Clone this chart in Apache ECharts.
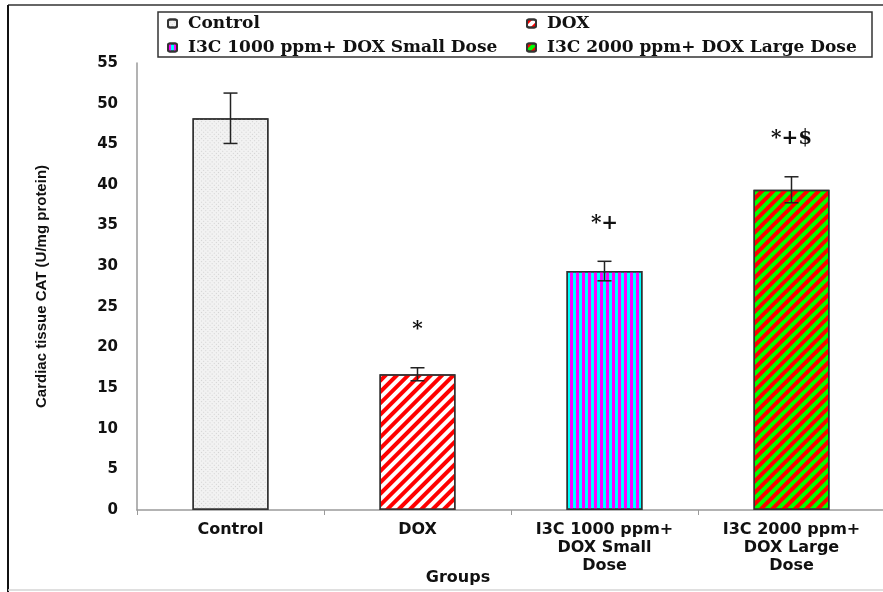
<!DOCTYPE html>
<html>
<head>
<meta charset="utf-8">
<script src="https://cdn.jsdelivr.net/npm/echarts@6/dist/echarts.min.js"></script>
<style>
  html, body { margin: 0; padding: 0; background: #fff; }
  #chart { width: 883px; height: 592px; }
</style>
</head>
<body>
<div id="chart"></div>
<script>
// Cardiac tissue CAT activity per treatment group (mean ± error)
const categories = ['Control', 'DOX', 'I3C 1000 ppm+\nDOX Small\nDose', 'I3C 2000 ppm+\nDOX Large\nDose'];
const groupNames = ['Control', 'DOX', 'I3C 1000 ppm+ DOX Small Dose', 'I3C 2000 ppm+ DOX Large Dose'];
const meanValues = [48.2, 16.7, 29.4, 39.4];
const errorValues = [3.1, 0.8, 1.2, 1.6];
const sigMarks = ['', '*', '*+', '*+$'];
const yMin = 0, yMax = 55, yStep = 5;

const SANS = "'DejaVu Sans', 'Liberation Sans', sans-serif";
const SERIF = "'DejaVu Serif', 'Liberation Serif', serif";

// fill + hatch for each group
const fills = [
  { color: '#f2f2f2', decal: { symbol: 'rect', color: '#d2d2d2', dashArrayX: [1, 2], dashArrayY: [1, 2], rotation: Math.PI / 4 } },
  { color: '#ffffff', decal: { symbol: 'rect', color: '#ff0000', dashArrayX: [1, 0], dashArrayY: [4, 4], rotation: -Math.PI / 4 } },
  { color: '#00ffff', decal: { symbol: 'rect', color: '#ff00ff', dashArrayX: [3, 3], dashArrayY: [1, 0], rotation: 0 } },
  { color: '#00ff00', decal: { symbol: 'rect', color: '#ff0000', dashArrayX: [1, 0], dashArrayY: [4, 4], rotation: -Math.PI / 4 } }
];

const barSeries = groupNames.map((name, gi) => ({
  name: name,
  type: 'bar',
  barWidth: 76,
  barGap: '-100%',
  data: meanValues.map((v, i) => (i === gi ? v : '-')),
  itemStyle: {
    color: fills[gi].color,
    decal: fills[gi].decal,
    borderColor: '#333',
    borderWidth: 1.5
  },
  emphasis: { disabled: true },
  z: 2
}));

const errorSeries = {
  type: 'custom',
  name: 'error',
  data: meanValues.map((v, i) => [i, v, errorValues[i]]),
  z: 5,
  renderItem: function (params, api) {
    const i = api.value(0);
    const m = api.value(1);
    const e = api.value(2);
    const top = api.coord([i, m + e]);
    const bot = api.coord([i, m - e]);
    const cap = 7;
    const st = { stroke: '#222', lineWidth: 1.5 };
    const children = [
      { type: 'line', shape: { x1: top[0], y1: top[1], x2: bot[0], y2: bot[1] }, style: st },
      { type: 'line', shape: { x1: top[0] - cap, y1: top[1], x2: top[0] + cap, y2: top[1] }, style: st },
      { type: 'line', shape: { x1: bot[0] - cap, y1: bot[1], x2: bot[0] + cap, y2: bot[1] }, style: st }
    ];
    const mark = sigMarks[params.dataIndex];
    if (mark) {
      children.push({
        type: 'text',
        style: {
          x: top[0], y: top[1] - 38,
          text: mark,
          fill: '#111',
          font: 'bold 20px ' + SERIF,
          align: 'center', verticalAlign: 'middle'
        }
      });
    }
    return { type: 'group', children: children };
  }
};

const legendPos = [
  { left: 167, top: 15 },
  { left: 526, top: 15 },
  { left: 167, top: 39 },
  { left: 526, top: 39 }
];

const chart = echarts.init(document.getElementById('chart'));
chart.setOption({
  animation: false,
  backgroundColor: '#fff',
  grid: { left: 137, top: 63, width: 748, height: 447, outerBoundsMode: 'none', containLabel: false },
  legend: groupNames.map((n, i) => ({
    data: [n],
    left: legendPos[i].left,
    top: legendPos[i].top,
    padding: 0,
    itemWidth: 9,
    itemHeight: 8,
    selectedMode: false,
    textStyle: { fontFamily: SERIF, fontWeight: 'bold', fontSize: 17, color: '#111', padding: [0, 0, 0, 6] }
  })),
  xAxis: {
    type: 'category',
    data: categories,
    name: 'Groups',
    nameLocation: 'middle',
    nameGap: 60,
    nameMoveOverlap: false,
    nameTextStyle: { fontFamily: SANS, fontWeight: 'bold', fontSize: 16, color: '#111', padding: [0, 106, 0, 0] },
    axisLine: { lineStyle: { color: '#9a9a9a', width: 1.5 } },
    axisTick: { show: true, length: 5, lineStyle: { color: '#9a9a9a' } },
    axisLabel: { interval: 0, margin: 11, fontFamily: SANS, fontWeight: 'bold', fontSize: 16, lineHeight: 18, color: '#111' }
  },
  yAxis: {
    type: 'value',
    min: yMin, max: yMax, interval: yStep,
    name: 'Cardiac tissue CAT (U/mg protein)',
    nameLocation: 'middle',
    nameGap: 88,
    nameMoveOverlap: false,
    nameTextStyle: { fontFamily: "'Liberation Sans', Arial, sans-serif", fontWeight: 'bold', fontSize: 15, color: '#111' },
    axisLine: { show: true, lineStyle: { color: '#9a9a9a', width: 1.5 } },
    axisTick: { show: false },
    splitLine: { show: false },
    axisLabel: { margin: 19, fontFamily: SANS, fontWeight: 'bold', fontSize: 15, color: '#111' }
  },
  graphic: [
    { type: 'line', shape: { x1: 8, y1: 5, x2: 883, y2: 5 }, style: { stroke: '#666', lineWidth: 2 }, silent: true },
    { type: 'line', shape: { x1: 8, y1: 5, x2: 8, y2: 592 }, style: { stroke: '#111', lineWidth: 2 }, silent: true },
    { type: 'line', shape: { x1: 8, y1: 590, x2: 883, y2: 590 }, style: { stroke: '#d4d4d4', lineWidth: 1.5 }, silent: true },
    { type: 'rect', shape: { x: 158, y: 12, width: 714, height: 45 }, style: { fill: '#fff', stroke: '#333', lineWidth: 1.5 }, z: -1, silent: true }
  ],
  series: barSeries.concat([errorSeries])
});
</script>
</body>
</html>
